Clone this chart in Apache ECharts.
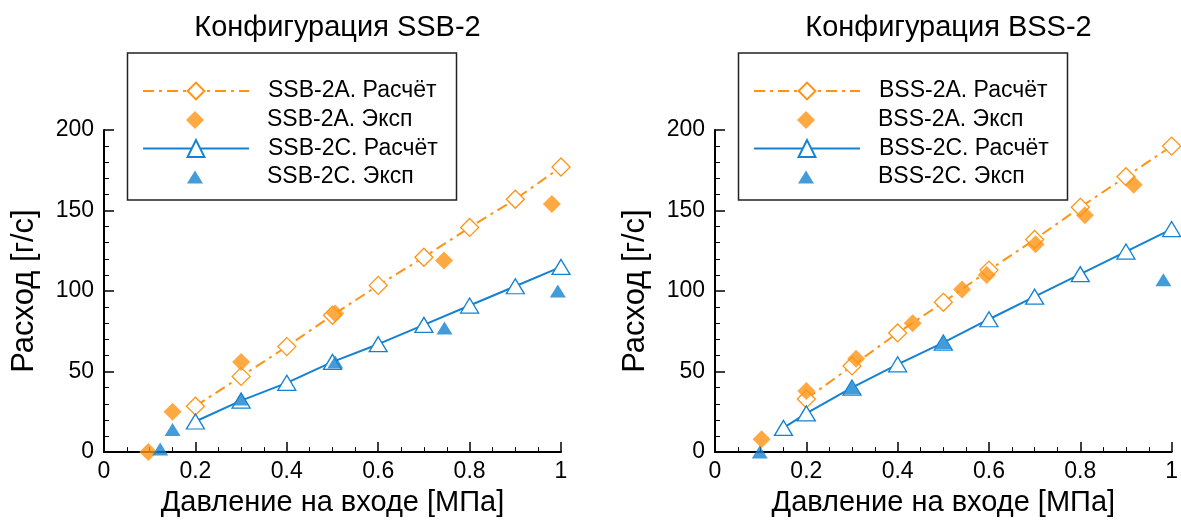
<!DOCTYPE html>
<html><head><meta charset="utf-8">
<script src="https://cdn.jsdelivr.net/npm/echarts@6/dist/echarts.min.js"></script>
<style>html,body{margin:0;padding:0;background:#fff}#c{width:1181px;height:522px}</style>
</head><body><div id="c"></div>
<script>
// ---- data ----
const titles = ['Конфигурация SSB-2', 'Конфигурация BSS-2'];
const xName = 'Давление на входе [МПа]';
const yName = 'Расход [г/с]';
const xTicks = [0, 0.2, 0.4, 0.6, 0.8, 1];

// left panel (SSB-2)
const ssbA_calc_x = [0.2, 0.3, 0.4, 0.5, 0.6, 0.7, 0.8, 0.9, 1.0];
const ssbA_calc_y = [28.5, 47, 65.5, 85, 103.5, 121, 139.5, 157, 177];
const ssbA_exp_x = [0.097, 0.15, 0.3, 0.506, 0.744, 0.98];
const ssbA_exp_y = [0, 25, 56, 86, 119, 154];
const ssbC_calc_x = [0.2, 0.3, 0.4, 0.5, 0.6, 0.7, 0.8, 0.9, 1.0];
const ssbC_calc_y = [19, 32, 43, 56, 67, 79, 91, 103, 115];
const ssbC_exp_x = [0.123, 0.15, 0.3, 0.506, 0.745, 0.993];
const ssbC_exp_y = [2, 14, 33, 56, 77, 100];

// right panel (BSS-2)
const bssA_calc_x = [0.2, 0.3, 0.4, 0.5, 0.6, 0.7, 0.8, 0.9, 1.0];
const bssA_calc_y = [33, 53.5, 74, 93, 113, 132, 152, 171, 190];
const bssA_exp_x = [0.102, 0.2, 0.309, 0.433, 0.541, 0.595, 0.702, 0.81, 0.917];
const bssA_exp_y = [8, 38, 58, 80, 101, 110, 129, 147, 166];
const bssC_calc_x = [0.15, 0.2, 0.3, 0.4, 0.5, 0.6, 0.7, 0.8, 0.9, 1.0];
const bssC_calc_y = [15, 24, 40, 54.5, 68, 82.5, 96.5, 110.5, 124.5, 138.5];
const bssC_exp_x = [0.098, 0.3, 0.5, 0.982];
const bssC_exp_y = [0, 40, 68, 107];

const names = [
  ['SSB-2A. Расчёт', 'SSB-2A. Эксп', 'SSB-2C. Расчёт', 'SSB-2C. Эксп'],
  ['BSS-2A. Расчёт', 'BSS-2A. Эксп', 'BSS-2C. Расчёт', 'BSS-2C. Эксп']
];
// ---- style ----
const ORANGE = '#ff9414';
const BLUE = '#1482d0';
const FONT = 'Liberation Sans';
const zip = (xs, ys) => xs.map((x, i) => [x, ys[i]]);

const panels = [
  [ssbA_calc_x, ssbA_calc_y, ssbA_exp_x, ssbA_exp_y, ssbC_calc_x, ssbC_calc_y, ssbC_exp_x, ssbC_exp_y],
  [bssA_calc_x, bssA_calc_y, bssA_exp_x, bssA_exp_y, bssC_calc_x, bssC_calc_y, bssC_exp_x, bssC_exp_y]
];
const gridLeft = [104, 715];
const gridW = 457;

// legend layout (per panel, offsets relative to grid left)
const rowY = [91, 120, 148.5, 177];
const ICON_W = 106;
// icons padded with bare move-to points so the marker sits centred in the full icon box
const DIAMOND_ICON = 'path://M0,0M106,18M53,0L62,9L53,18L44,9Z';
const TRIANGLE_ICON = 'path://M0,0M106,13M53,0L61,13L45,13Z';
const legends = [];
const boxes = [];
[0, 1].forEach(i => {
  const g = gridLeft[i];
  boxes.push({ type: 'rect', shape: { x: g + 23.5, y: 53, width: 329, height: 147 },
    style: { fill: null, stroke: '#222', lineWidth: 1.5 }, z: 10 });
  names[i].forEach((nm, k) => {
    const isLine = k % 2 === 0;
    const ih = isLine ? 21 : (k === 1 ? 18 : 13);
    const item = isLine ? nm : { name: nm, icon: k === 1 ? DIAMOND_ICON : TRIANGLE_ICON };
    legends.push({
      data: [item], left: g + 38, top: rowY[k] - 12, padding: 0,
      itemWidth: ICON_W, itemHeight: ih, selectedMode: false, symbolKeepAspect: false,
      textStyle: { fontFamily: FONT, fontSize: 23, lineHeight: 24, color: '#000',
        padding: [0, 0, 0, 14] }
    });
  });
});

const option = {
  animation: false,
  backgroundColor: '#fff',
  textStyle: { fontFamily: FONT },
  title: titles.map((t, i) => ({
    text: t, left: gridLeft[i] + gridW / 2, top: 8, textAlign: 'center',
    textStyle: { fontFamily: FONT, fontSize: 29, fontWeight: 'normal', color: '#000' }
  })),
  graphic: boxes,
  grid: gridLeft.map(l => ({ left: l, width: gridW, top: 130, height: 325 })),
  legend: legends,
  xAxis: [0, 1].map(i => ({
    type: 'value', gridIndex: i, min: 0, max: 1, interval: 0.2,
    name: xName, nameLocation: 'middle', nameGap: 32,
    nameTextStyle: { fontFamily: FONT, fontSize: 29, color: '#000' },
    axisLine: { show: true, lineStyle: { color: '#000', width: 2 } },
    axisTick: { show: true, inside: true, length: 10, lineStyle: { color: '#000', width: 1.5 } },
    minorTick: { show: true, splitNumber: 4, length: 5, lineStyle: { color: '#000', width: 1 } },
    splitLine: { show: false },
    axisLabel: { fontFamily: FONT, fontSize: 23, color: '#000', margin: 8,
      formatter: v => xTicks.includes(+v.toFixed(1)) ? String(+v.toFixed(1)) : '' }
  })),
  yAxis: [0, 1].map(i => ({
    type: 'value', gridIndex: i, min: 0, max: 200, interval: 50,
    name: yName, nameLocation: 'middle', nameGap: 64,
    nameTextStyle: { fontFamily: FONT, fontSize: 31, color: '#000' },
    axisLine: { show: true, lineStyle: { color: '#000', width: 2 } },
    axisTick: { show: true, inside: true, length: 10, lineStyle: { color: '#000', width: 1.5 } },
    minorTick: { show: true, splitNumber: 5, length: 5, lineStyle: { color: '#000', width: 1 } },
    splitLine: { show: false },
    axisLabel: { fontFamily: FONT, fontSize: 23, color: '#000', margin: 10 }
  })),
  series: []
};

panels.forEach((p, i) => {
  const n = names[i];
  option.series.push({
    name: n[0], type: 'line', xAxisIndex: i, yAxisIndex: i, data: zip(p[0], p[1]),
    symbol: 'diamond', symbolSize: 18, z: 2,
    lineStyle: { color: ORANGE, width: 2, type: [11, 5, 3, 5] },
    itemStyle: { color: '#fff', borderColor: ORANGE, borderWidth: 1.3 }
  });
  option.series.push({
    name: n[1], type: 'scatter', xAxisIndex: i, yAxisIndex: i, data: zip(p[2], p[3]),
    symbol: 'diamond', symbolSize: 18, z: 3,
    itemStyle: { color: ORANGE }
  });
  option.series.push({
    name: n[2], type: 'line', xAxisIndex: i, yAxisIndex: i, data: zip(p[4], p[5]),
    symbol: 'triangle', symbolSize: [18, 15], z: 2,
    lineStyle: { color: BLUE, width: 2 },
    itemStyle: { color: '#fff', borderColor: BLUE, borderWidth: 1.3 }
  });
  option.series.push({
    name: n[3], type: 'scatter', xAxisIndex: i, yAxisIndex: i, data: zip(p[6], p[7]),
    symbol: 'triangle', symbolSize: [16, 13], z: 3,
    itemStyle: { color: BLUE }
  });
});

const chart = echarts.init(document.getElementById('c'), null, { renderer: 'canvas' });
chart.setOption(option);
</script>
</body></html>
